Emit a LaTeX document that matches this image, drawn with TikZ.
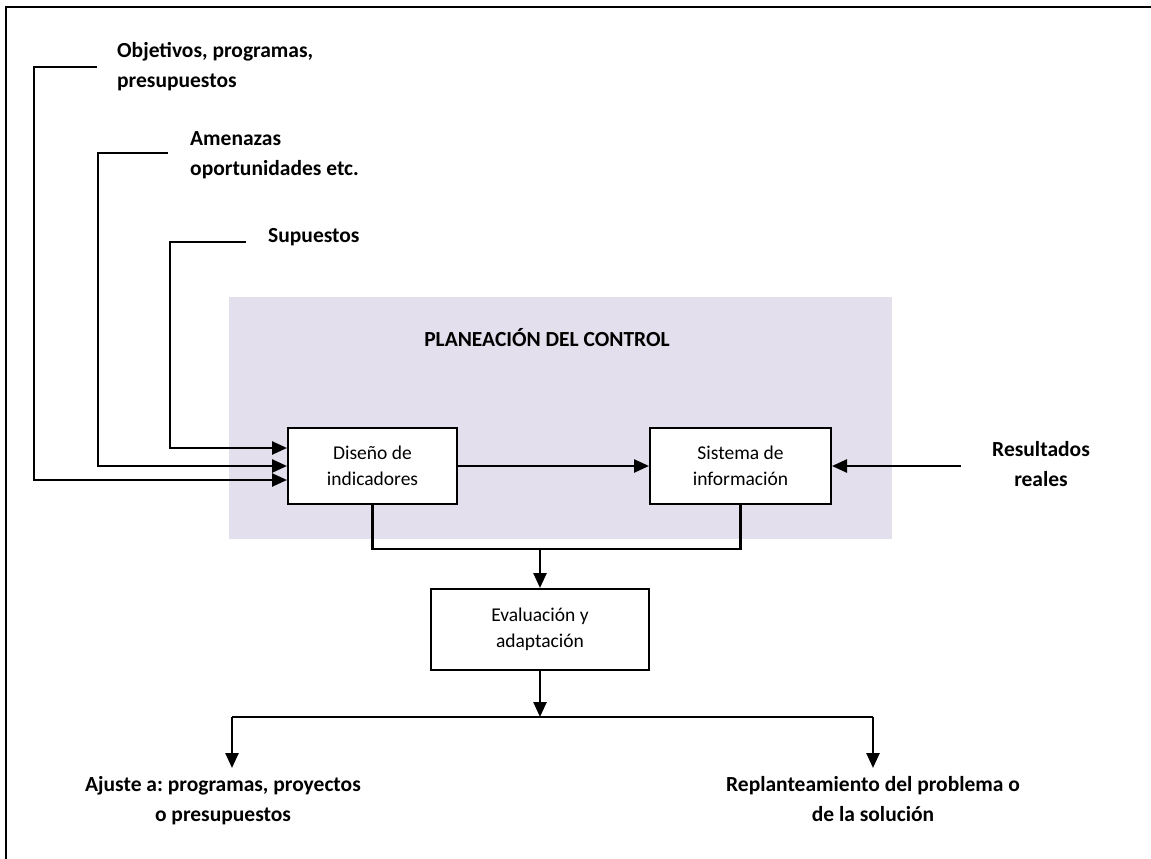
\documentclass[tikz,border=0pt]{standalone}
\usepackage{fontspec}
\setmainfont{Carlito}
\usetikzlibrary{arrows.meta}
\definecolor{planbg}{RGB}{228,223,236}
\frenchspacing
\begin{document}
\begin{tikzpicture}[x=1pt,y=-1pt,
  wire/.style={line width=2.5pt},
  arr/.style={line width=2.5pt,-{Triangle[length=15pt,width=13pt]}},
  box/.style={draw,line width=2pt,fill=white,align=center,inner sep=0pt,
    font=\fontsize{19.5}{26}\selectfont},
  lbl/.style={font=\bfseries\fontsize{21.5}{30}\selectfont,inner sep=0pt}]
\useasboundingbox (0,0) rectangle (1151,859);

% frame (top and left edges)
\draw[line width=2pt] (6,859) -- (6,7) -- (1151,7);

% planning area
\fill[planbg] (229,297) rectangle (892,539);
\node[lbl] (title) at (547,338) {PLANEACIÓN DEL CONTROL};

% process boxes
\node[box,minimum width=169pt,minimum height=76pt] (dis) at (372.5,466) {Diseño de\\indicadores};
\node[box,minimum width=181pt,minimum height=76pt] (sis) at (740.5,466) {Sistema de\\información};
\node[box,minimum width=218pt,minimum height=81pt] (eva) at (540,629.5) {Evaluación y\\adaptación};

% input labels
\node[lbl,anchor=west,align=left] (obj) at (117,67) {Objetivos, programas,\\presupuestos};
\node[lbl,anchor=west,align=left] (ame) at (190,155) {Amenazas\\oportunidades etc.};
\node[lbl,anchor=west] (sup) at (268,237) {Supuestos};
\node[lbl,align=center] (res) at (1041,464) {Resultados\\reales};

% output labels
\node[lbl,align=center,anchor=north] (aju) at (223,776) {Ajuste a: programas, proyectos\\o presupuestos};
\node[lbl,align=center,anchor=north] (rep) at (873,776) {Replanteamiento del problema o\\de la solución};

% connector points
\coordinate (objEnd) at (97,67);
\coordinate (objIn) at (34,480);
\coordinate (ameEnd) at (168,153);
\coordinate (ameIn) at (98,466);
\coordinate (supEnd) at (246,242);
\coordinate (supIn) at (170,448);
\coordinate (resEnd) at (961,466);
\coordinate (merge) at (540,549);
\coordinate (split) at (540,717);
\coordinate (leftDrop) at (232,717);
\coordinate (rightDrop) at (873,717);

% inputs to the indicator design
\draw[arr] (objEnd) -| (objIn) -- (dis.west |- objIn);
\draw[arr] (ameEnd) -| (ameIn) -- (dis.west |- ameIn);
\draw[arr] (supEnd) -| (supIn) -- (dis.west |- supIn);

% main flow
\draw[arr] (dis.east) -- (sis.west);
\draw[arr] (resEnd) -- (sis.east);
\draw[wire] (dis.south) |- (merge) -| (sis.south);
\draw[arr] (merge) -- (eva.north);
\draw[arr] (eva.south) -- (split);
\draw[wire] (leftDrop) -- (rightDrop);
\draw[arr] (leftDrop) -- ([yshift=8pt]leftDrop |- aju.north);
\draw[arr] (rightDrop) -- ([yshift=8pt]rightDrop |- rep.north);
\end{tikzpicture}
\end{document}
